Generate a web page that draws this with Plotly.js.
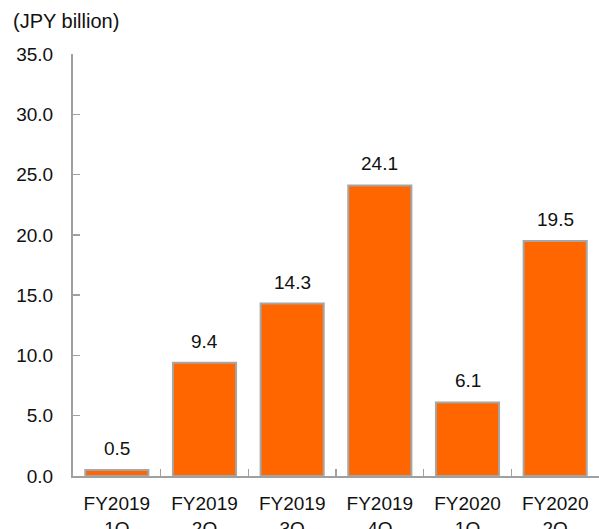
<!DOCTYPE html>
<html>
<head>
<meta charset="utf-8">
<script src="https://cdn.plot.ly/plotly-3.0.1.min.js"></script>
<style>html,body{margin:0;padding:0;background:#fff;}#chart{width:599px;height:529px;}</style>
</head>
<body>
<div id="chart"></div>
<script>
const categories = ["FY2019<br>1Q", "FY2019<br>2Q", "FY2019<br>3Q", "FY2019<br>4Q", "FY2020<br>1Q", "FY2020<br>2Q"];
const values = [0.5, 9.4, 14.3, 24.1, 6.1, 19.5];
const yTicks = [0, 5, 10, 15, 20, 25, 30, 35];

const font = {family: "Arial, 'Liberation Sans', sans-serif", size: 19, color: "#111111"};

const trace = {
  type: "bar",
  x: categories,
  y: values,
  marker: {color: "#FF6600", line: {color: "#A6A6A6", width: 2}},
  hoverinfo: "none"
};

const annotations = categories.map((c, i) => ({
  x: c, y: values[i], xref: "x", yref: "y",
  text: values[i].toFixed(1), showarrow: false,
  yanchor: "bottom", yshift: 9,
  font: font
}));

const layout = {
  width: 599, height: 529,
  margin: {l: 73, r: 0, t: 54, b: 53},
  paper_bgcolor: "#fff", plot_bgcolor: "#fff",
  font: font,
  showlegend: false,
  bargap: 0.28,
  title: {text: "(JPY billion)", x: 13/599, xanchor: "left", xref: "container",
          y: 1 - 21/529, yanchor: "middle", yref: "container",
          font: {family: font.family, size: 20, color: "#111111"}},
  xaxis: {
    showline: true, linecolor: "#A0A0A0", linewidth: 2,
    ticks: "inside", tickson: "boundaries", ticklen: 7, tickwidth: 1.5, tickcolor: "#A0A0A0",
    ticklabelstandoff: 9,
    showgrid: false, zeroline: false, fixedrange: true
  },
  yaxis: {
    range: [0, 35], tickvals: yTicks, ticktext: yTicks.map(v => v.toFixed(1)),
    showline: true, linecolor: "#A0A0A0", linewidth: 2,
    ticks: "inside", ticklen: 7, tickwidth: 1.5, tickcolor: "#A0A0A0",
    ticklabelstandoff: 14,
    showgrid: false, zeroline: false, fixedrange: true
  },
  annotations: annotations
};

Plotly.newPlot("chart", [trace], layout, {displayModeBar: false, staticPlot: true});
</script>
</body>
</html>
